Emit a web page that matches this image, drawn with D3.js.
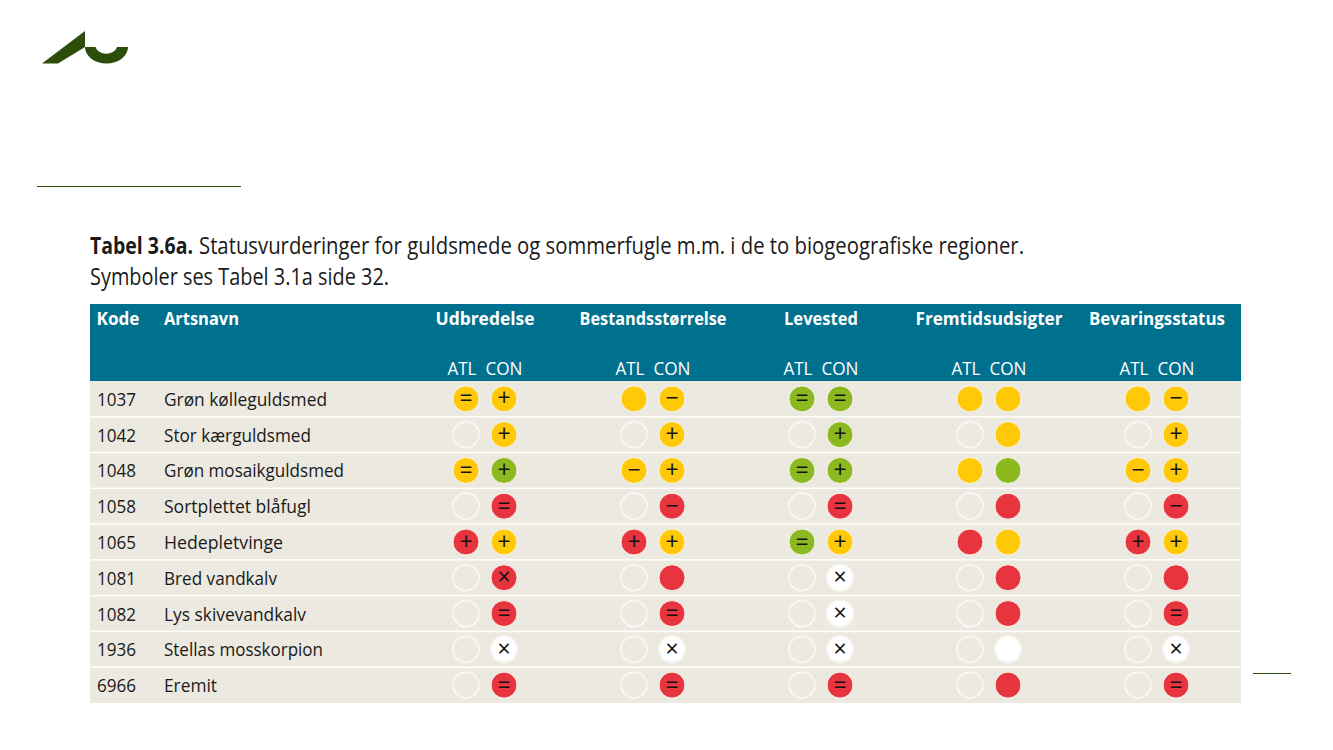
<!DOCTYPE html>
<html>
<head>
<meta charset="utf-8">
<script src="https://cdnjs.cloudflare.com/ajax/libs/d3/7.8.5/d3.min.js"></script>
<style>
html,body{margin:0;padding:0;background:#fff;}
svg{display:block;}
text{font-family:"Open Sans",sans-serif;}
</style>
</head>
<body>
<svg id="chart" width="1333" height="750"></svg>
<script>
var titleBold = "Tabel 3.6a.",
	titleRest = "Statusvurderinger for guldsmede og sommerfugle m.m. i de to biogeografiske regioner.",
	subtitle = "Symboler ses Tabel 3.1a side 32.";

var groups = ["Udbredelse","Bestandsstørrelse","Levested","Fremtidsudsigter","Bevaringsstatus"];
var regions = ["ATL","CON"];
var codes = ["1037","1042","1048","1058","1065","1081","1082","1936","6966"];
var names = ["Grøn kølleguldsmed","Stor kærguldsmed","Grøn mosaikguldsmed","Sortplettet blåfugl","Hedepletvinge","Bred vandkalv","Lys skivevandkalv","Stellas mosskorpion","Eremit"];

// status per row, two per group (ATL, CON): colour letter + trend symbol, "" = not present
var row1037 = ["y=","y+", "y","y-", "g=","g=", "y","y", "y","y-"];
var row1042 = ["","y+", "","y+", "","g+", "","y", "","y+"];
var row1048 = ["y=","g+", "y-","y+", "g=","g+", "y","g", "y-","y+"];
var row1058 = ["","r=", "","r-", "","r=", "","r", "","r-"];
var row1065 = ["r+","y+", "r+","y+", "g=","y+", "r","y", "r+","y+"];
var row1081 = ["","rx", "","r", "","wx", "","r", "","r"];
var row1082 = ["","r=", "","r=", "","wx", "","r", "","r="];
var row1936 = ["","wx", "","wx", "","wx", "","w", "","wx"];
var row6966 = ["","r=", "","r=", "","r=", "","r", "","r="];
var rows = [row1037,row1042,row1048,row1058,row1065,row1081,row1082,row1936,row6966];

var colors = {y:"#ffc907",g:"#8cb91f",r:"#e8343f",w:"#ffffff"};
var glyphs = {"=":"=","+":"+","-":"\u2212","x":"\u00d7"};

var svg = d3.select("#chart");
var green = "#2d4d0b";

// logo
svg.append("path").attr("fill",green)
	.attr("d","M42,63.5L85,31V47L58,63.5Z");
svg.append("path").attr("fill",green)
	.attr("d","M85,47H95.5A11,8.5 0 0 0 117,47H128A21.5,16.5 0 0 1 85,47Z");

svg.append("line").attr("x1",37).attr("x2",241).attr("y1",186.5).attr("y2",186.5).attr("stroke",green).attr("stroke-width",1);
svg.append("line").attr("x1",1253).attr("x2",1291).attr("y1",673.5).attr("y2",673.5).attr("stroke",green).attr("stroke-width",1);

// title: bold part squeezed with a transform, its box then ends before the rest starts
var bold = svg.append("text").attr("font-size",23).attr("font-weight",700).attr("fill","#1a1a1a").text(titleBold);
bold.attr("transform","translate(90,254) scale("+(103/bold.node().getComputedTextLength())+",1)");
svg.append("text").attr("x",199).attr("y",254).attr("font-size",23).attr("fill","#1a1a1a")
	.attr("textLength",825).attr("lengthAdjust","spacingAndGlyphs").text(titleRest);
svg.append("text").attr("x",90).attr("y",285).attr("font-size",23).attr("fill","#1a1a1a")
	.attr("textLength",299).attr("lengthAdjust","spacingAndGlyphs").text(subtitle);

// scales
var y = d3.scaleBand().domain(codes).range([381,703]);
var xGroup = d3.scaleBand().domain(groups).range([401,1241]);
var xRegion = d3.scalePoint().domain(regions).range([65,103]);

// header
svg.append("rect").attr("x",90).attr("y",304).attr("width",1151).attr("height",77).attr("fill","#00708f");
svg.append("text").attr("class","hd").attr("x",96.5).attr("y",324.5).text("Kode");
svg.append("text").attr("class","hd").attr("x",164).attr("y",324.5).text("Artsnavn");
svg.selectAll("text.hd").attr("fill","#fff").attr("font-size",18.5).attr("font-weight",700)
	.attr("textLength",function(){ return this.textContent=="Kode" ? 43 : 75; })
	.attr("lengthAdjust","spacingAndGlyphs");

var groupWidths = [99,147,74,147,136];
svg.selectAll("text.group").data(groups).enter().append("text").attr("class","group")
	.attr("x",function(d){ return xGroup(d)+84; })
	.attr("y",324.5)
	.attr("text-anchor","middle").attr("fill","#fff").attr("font-size",18.5).attr("font-weight",700)
	.attr("textLength",function(d,i){ return groupWidths[i]; })
	.attr("lengthAdjust","spacingAndGlyphs")
	.text(function(d){ return d; });

groups.forEach(function(g){
	regions.forEach(function(r){
		svg.append("text")
			.attr("x",xGroup(g)+xRegion(r)+(r=="ATL"?-4:0))
			.attr("y",375)
			.attr("text-anchor","middle").attr("fill","#fff").attr("font-size",19)
			.attr("textLength",r=="ATL"?29:37).attr("lengthAdjust","spacingAndGlyphs")
			.text(r);
	});
});

// rows
var row = svg.selectAll("g.row").data(codes).enter().append("g").attr("class","row")
	.attr("transform",function(d){ return "translate(0,"+y(d)+")"; });

row.append("rect").attr("x",90).attr("width",1151).attr("height",y.bandwidth()).attr("fill","#ebe9e0");
row.filter(function(d,i){ return i>0; }).append("rect").attr("x",90).attr("y",-0.75).attr("width",1151).attr("height",1.5).attr("fill","#fff");

row.append("text").attr("x",97).attr("y",y.bandwidth()/2+7).attr("font-size",18.5).attr("fill","#1a1a1a")
	.attr("textLength",39).attr("lengthAdjust","spacingAndGlyphs")
	.text(function(d){ return d; });

var nameWidths = [163,147,180,147,119,113,142,159,53];
row.append("text").attr("x",164).attr("y",y.bandwidth()/2+7).attr("font-size",18.5).attr("fill","#1a1a1a")
	.attr("textLength",function(d,i){ return nameWidths[i]; }).attr("lengthAdjust","spacingAndGlyphs")
	.text(function(d,i){ return names[i]; });

rows.forEach(function(vals,ri){
	var cy = y(codes[ri])+y.bandwidth()/2;
	vals.forEach(function(v,i){
		var g = groups[Math.floor(i/2)], r = regions[i%2];
		var cx = xGroup(g)+xRegion(r);
		var c = v[0], s = v[1];
		svg.append("circle").attr("cx",cx).attr("cy",cy).attr("r",13)
			.attr("fill",v ? colors[c] : "#ebe9e0")
			.attr("stroke",v && c!="w" ? "#f7f5ea" : "#f9f8f2").attr("stroke-width",v && c!="w" ? 1 : 1.8);
		if(s){
			svg.append("text").attr("x",cx).attr("y",cy+7.5)
				.attr("text-anchor","middle").attr("font-size",23).attr("fill","#111")
				.text(glyphs[s]);
		}
	});
});
</script>
</body>
</html>
